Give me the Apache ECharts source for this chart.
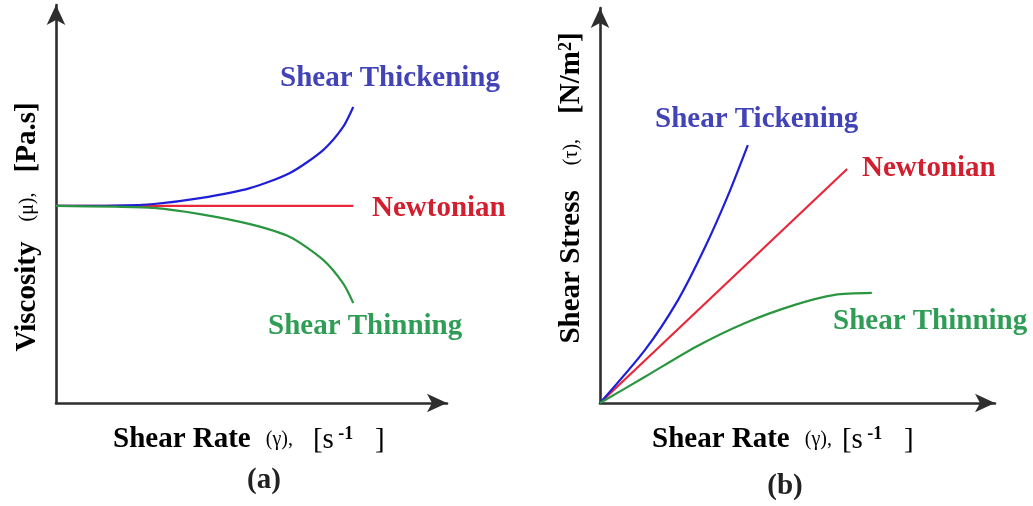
<!DOCTYPE html>
<html>
<head>
<meta charset="utf-8">
<script src="https://cdn.jsdelivr.net/npm/echarts@6/dist/echarts.min.js"></script>
<style>
html,body{margin:0;padding:0;background:#fff;}
#c{width:1033px;height:506px;}
</style>
</head>
<body>
<div id="c"></div>
<script>
// Panel (a): viscosity vs shear rate (arbitrary units)
const viscNewtonian = [[0, 50.8], [78, 50.8]];
const viscThickening = [[0, 50.8], [15.5, 50.9], [25.7, 51.3], [37.8, 52.8], [50.9, 55.4], [61.4, 59.3], [70.1, 65.2], [75.3, 71.1], [78.0, 76.3]];
const viscThinning = [[0, 50.8], [15.5, 50.6], [25.7, 50.3], [37.8, 48.7], [50.9, 46.1], [61.4, 42.8], [70.1, 36.9], [75.3, 30.9], [78.0, 25.8]];
// Panel (b): shear stress vs shear rate
const stressNewtonian = [[0, 0], [64.2, 60.8]];
const stressThickening = [[0, 0], [11.7, 13.8], [20.3, 26.8], [27.3, 40.5], [33.2, 53.8], [38.4, 67.0]];
const stressThinning = [[0, 0], [11.7, 6.8], [24.7, 14.5], [37.7, 20.8], [50.6, 25.5], [61.0, 28.1], [70.6, 28.6]];

const seriesNames = ['Shear Thickening', 'Newtonian', 'Shear Thinning'];
const panelTags = ['(a)', '(b)'];
const AXIS_MAX = 102.6;

const BLUE = '#1f1fd8', RED = '#e8283a', GREEN = '#2b9640';
const LBLUE = '#4343b8', LRED = '#d21f2f', LGREEN = '#2f9d55';
const FONT = 'Liberation Serif';

function axis(gi) {
  return {
    type: 'value', gridIndex: gi, min: 0, max: AXIS_MAX,
    axisLine: { show: true, symbol: ['none', 'arrow'], symbolSize: [14, 20],
      lineStyle: { color: '#2e2e2e', width: 2.6 } },
    axisTick: { show: false }, axisLabel: { show: false }, splitLine: { show: false }
  };
}
function line(name, data, color, gi) {
  return { type: 'line', name, data, xAxisIndex: gi, yAxisIndex: gi, smooth: 0.25,
    symbol: 'none', lineStyle: { color, width: 2.2 }, silent: true, z: 3 };
}
function txt(text, x, y, color, align) {
  return { type: 'text', x, y, style: { text, fill: color,
    font: 'bold 29px "' + FONT + '"', textVerticalAlign: 'middle', textAlign: align || 'left' } };
}
const rich = {
  b: { fontFamily: FONT, fontWeight: 'bold', fontSize: 29, color: '#222' },
  r: { fontFamily: FONT, fontWeight: 'normal', fontSize: 29, color: '#222' },
  s: { fontFamily: FONT, fontWeight: 'normal', fontSize: 20, color: '#333' },
  sup: { fontFamily: FONT, fontWeight: 'bold', fontSize: 18, color: '#222', verticalAlign: 'top' }
};
function richTxt(text, x, y, rot, align) {
  return { type: 'text', x, y, rotation: rot || 0,
    style: { text, rich, textAlign: align || 'left', textVerticalAlign: 'middle' } };
}

const chart = echarts.init(document.getElementById('c'));
chart.setOption({
  backgroundColor: '#fff',
  animation: false,
  grid: [
    { left: 56, right: 586, top: 5, bottom: 103 },
    { left: 600, right: 38, top: 8, bottom: 103 }
  ],
  xAxis: [axis(0), axis(1)],
  yAxis: [axis(0), axis(1)],
  series: [
    line(seriesNames[1], viscNewtonian, RED, 0),
    line(seriesNames[0], viscThickening, BLUE, 0),
    line(seriesNames[2], viscThinning, GREEN, 0),
    line(seriesNames[1], stressNewtonian, RED, 1),
    line(seriesNames[0], stressThickening, BLUE, 1),
    line(seriesNames[2], stressThinning, GREEN, 1)
  ],
  graphic: [
    txt('Shear Thickening', 280, 79, LBLUE),
    txt('Newtonian', 372, 209, LRED),
    txt('Shear Thinning', 268, 327, LGREEN),
    txt('Shear Tickening', 655, 120, LBLUE),
    txt('Newtonian', 862, 169, LRED),
    txt('Shear Thinning', 833, 322, LGREEN),
    richTxt('{b|Shear Rate}{s|   (γ),    }{r|[s}{sup| -1}{r|   ]}', 113, 440),
    richTxt('{b|Shear Rate}{s|   (γ),  }{r|[s}{sup| -1}{r|   ]}', 652, 440),
    txt(panelTags[0], 264, 481, '#222', 'center'),
    txt(panelTags[1], 785, 487, '#222', 'center'),
    richTxt('{b|Viscosity}{s|    (μ),    }{b|[Pa.s]}', 28, 227, Math.PI / 2, 'center'),
    richTxt('{b|Shear Stress}{s|     (τ),     }{b|[N/m}{sup|2}{b|]}', 572, 188, Math.PI / 2, 'center')
  ]
});
</script>
</body>
</html>
